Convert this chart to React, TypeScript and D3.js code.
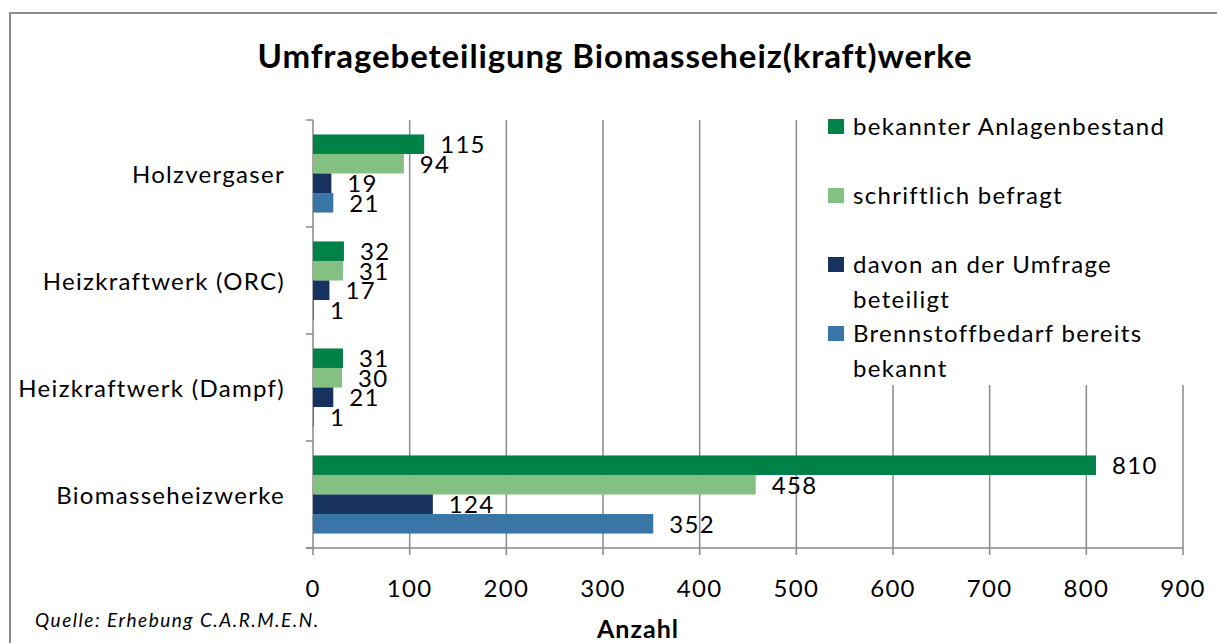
import * as d3 from 'd3'

const categories = ['Holzvergaser', 'Heizkraftwerk (ORC)', 'Heizkraftwerk (Dampf)', 'Biomasseheizwerke']
const seriesNames = [
  'bekannter Anlagenbestand',
  'schriftlich befragt',
  'davon an der Umfrage beteiligt',
  'Brennstoffbedarf bereits bekannt',
]
const bekannt = [115, 32, 31, 810]
const befragt = [94, 31, 30, 458]
const beteiligt = [19, 17, 21, 124]
const brennstoff = [21, 1, 1, 352]
const xTicks = [0, 100, 200, 300, 400, 500, 600, 700, 800, 900]
const legendLines = [['bekannter Anlagenbestand'], ['schriftlich befragt'], ['davon an der Umfrage', 'beteiligt'], ['Brennstoffbedarf bereits', 'bekannt']]

const colors = ['#008148', '#84c082', '#17325f', '#3a75a7']
const seriesValues = [bekannt, befragt, beteiligt, brennstoff]

const W = 1217
const H = 643
const FONT = 'Lato, "Open Sans", sans-serif'
const GRID = '#898989'
const FS = 24 // body text size
const LS = 1.3 // letter spacing to widen Lato towards Calibri widths

export default function App() {
  // scales
  const x = d3.scaleLinear().domain([0, 900]).range([313, 1183])
  const y = d3.scaleBand().domain(categories).range([120, 548])
  const inner = d3.scaleBand().domain(seriesNames).range([0, y.bandwidth()]).paddingOuter(0.74)

  return (
    <svg width={W} height={H} style={{ position: 'absolute', left: 0, top: 0, background: '#fff' }} fontFamily={FONT}>
      {/* outer frame */}
      <rect x={10} y={13} width={W + 20} height={H + 20} fill='#fff' stroke='#8c8c8c' strokeWidth={2} />

      <text x={615} y={68} textAnchor='middle' fontSize={33} fontWeight='bold' letterSpacing={0.9} fill='#000'>
        Umfragebeteiligung Biomasseheiz(kraft)werke
      </text>

      {/* gridlines */}
      {xTicks.slice(1).map((t) => (
        <line key={t} x1={x(t)} x2={x(t)} y1={120} y2={555} stroke={GRID} strokeWidth={1.5} />
      ))}

      {/* legend box covers the grid behind it */}
      <rect x={818} y={100} width={390} height={285} fill='#fff' />

      {/* axes */}
      <line x1={313} x2={313} y1={120} y2={555} stroke={GRID} strokeWidth={1.5} />
      <line x1={306} x2={1183} y1={548} y2={548} stroke={GRID} strokeWidth={1.5} />
      {[...categories.map((c) => y(c) as number), 548].map((v, i) => (
        <line key={i} x1={306} x2={313} y1={v} y2={v} stroke={GRID} strokeWidth={1.5} />
      ))}

      {/* bars + labels */}
      {categories.map((c, ci) => (
        <g key={c}>
          {seriesNames.map((s, si) => {
            const v = seriesValues[si][ci]
            const by = (y(c) as number) + (inner(s) as number)
            return (
              <g key={s}>
                <rect x={x(0)} y={by} width={x(v) - x(0)} height={inner.bandwidth()} fill={colors[si]} />
                <text x={x(v) + 16} y={by + inner.bandwidth() / 2 + 9} fontSize={FS} letterSpacing={LS} fill='#000'>
                  {v}
                </text>
              </g>
            )
          })}
          <text x={285} y={(y(c) as number) + y.bandwidth() / 2 + 9.5} textAnchor='end' fontSize={FS} letterSpacing={LS} fill='#000'>
            {c}
          </text>
        </g>
      ))}

      {/* x tick labels */}
      {xTicks.map((t) => (
        <text key={t} x={x(t)} y={597} textAnchor='middle' fontSize={FS} letterSpacing={LS} fill='#000'>
          {t}
        </text>
      ))}

      <text x={638} y={638} textAnchor='middle' fontSize={25} fontWeight='bold' letterSpacing={1} fill='#000'>
        Anzahl
      </text>
      <text x={35} y={627} fontSize={19} fontStyle='italic' letterSpacing={1.5} fill='#000'>
        Quelle: Erhebung C.A.R.M.E.N.
      </text>

      {/* legend */}
      {legendLines.map((lines, i) => {
        const cy = [127, 196, 265, 334][i]
        return (
          <g key={i}>
            <rect x={828} y={cy - 8} width={16} height={15} fill={colors[i]} />
            {lines.map((l, li) => (
              <text key={li} x={853} y={cy + 8 + li * 35} fontSize={FS} letterSpacing={LS} fill='#000'>
                {l}
              </text>
            ))}
          </g>
        )
      })}
    </svg>
  )
}
